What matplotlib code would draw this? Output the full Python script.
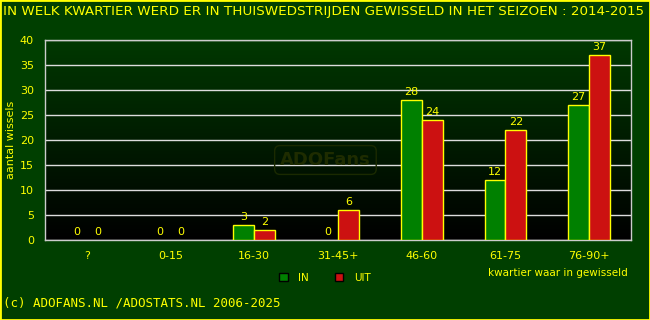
import matplotlib
matplotlib.use('Agg')
import matplotlib.pyplot as plt
import numpy as np
from matplotlib.patches import Rectangle

# data
categories = ['?', '0-15', '16-30', '31-45+', '46-60', '61-75', '76-90+']
wissels_in = [0, 0, 3, 0, 28, 12, 27]
wissels_uit = [0, 0, 2, 6, 24, 22, 37]

bg = '#003f00'
yellow = '#ffff00'
green = '#008000'
red = '#cc1111'

fig = plt.figure(figsize=(6.5, 3.2), dpi=100, facecolor=bg)
ax = fig.add_axes([45/650, 80/320, 586/650, 200/320])
ax.set_facecolor('black')

# gradient background of plot area
grad = np.linspace(0, 1, 256).reshape(-1, 1)
cmap = matplotlib.colors.LinearSegmentedColormap.from_list('g', ['#000000', '#003800'])
ax.imshow(grad, aspect='auto', cmap=cmap, origin='lower',
          extent=[-0.5, len(categories) - 0.5, 0, 40], zorder=0)

x = np.arange(len(categories))
w = 0.25
edge_in = [yellow if v > 0 else 'none' for v in wissels_in]
edge_uit = [yellow if v > 0 else 'none' for v in wissels_uit]
b1 = ax.bar(x - w/2, wissels_in, w, color=green, edgecolor=edge_in, linewidth=1, zorder=3, label='IN')
b2 = ax.bar(x + w/2, wissels_uit, w, color=red, edgecolor=edge_uit, linewidth=1, zorder=3, label='UIT')

for xi, v in zip(x, wissels_in):
    ax.text(xi - w/2, v + 0.6, str(v), color=yellow, ha='center', va='bottom', fontsize=8, zorder=4)
for xi, v in zip(x, wissels_uit):
    ax.text(xi + w/2, v + 0.6, str(v), color=yellow, ha='center', va='bottom', fontsize=8, zorder=4)

ax.set_xlim(-0.5, len(categories) - 0.5)
ax.set_ylim(0, 40)
ax.set_yticks(range(0, 41, 5))
ax.yaxis.grid(True, color='#dddddd', linewidth=1, zorder=1)
ax.set_axisbelow(True)
ax.set_xticks(x)
ax.set_xticklabels(categories)
ax.tick_params(colors=yellow, labelsize=8, length=0, pad=8)
for s in ax.spines.values():
    s.set_color('#cccccc')
    s.set_linewidth(1)

ax.set_ylabel('aantal wissels', color=yellow, fontsize=8, labelpad=3)

# watermark
ax.text(2.85, 16, 'ADOFans', color='#1e2c00', fontsize=13, fontweight='bold',
        ha='center', va='center', zorder=2,
        bbox=dict(boxstyle='round,pad=0.3', facecolor='none', edgecolor='#1a2a00', linewidth=1))

fig.text(3/650, 1 - 12/320, 'IN WELK KWARTIER WERD ER IN THUISWEDSTRIJDEN GEWISSELD IN HET SEIZOEN : 2014-2015',
         color=yellow, fontsize=9.7, va='center', ha='left')
fig.text(628/650, 1 - 273/320, 'kwartier waar in gewisseld', color=yellow, fontsize=7.5,
         ha='right', va='center')
fig.text(3/650, 1 - 303/320, '(c) ADOFANS.NL /ADOSTATS.NL 2006-2025', color=yellow,
         fontsize=9, family='DejaVu Sans Mono', va='center', ha='left')

leg = fig.legend(handles=[b1, b2], loc='center', bbox_to_anchor=(325/650, 1 - 278/320), ncol=2,
                 frameon=False, fontsize=7.5, labelcolor=yellow, handlelength=0.8, handleheight=0.8,
                 columnspacing=2.5, handletextpad=1.0)
for h in leg.legend_handles:
    h.set_edgecolor('black')

# yellow frame around the figure
fig.patches.append(Rectangle((0, 0), 1, 1, transform=fig.transFigure, fill=False,
                             edgecolor=yellow, linewidth=2))

fig.savefig('out.png', dpi=100, facecolor=bg)
